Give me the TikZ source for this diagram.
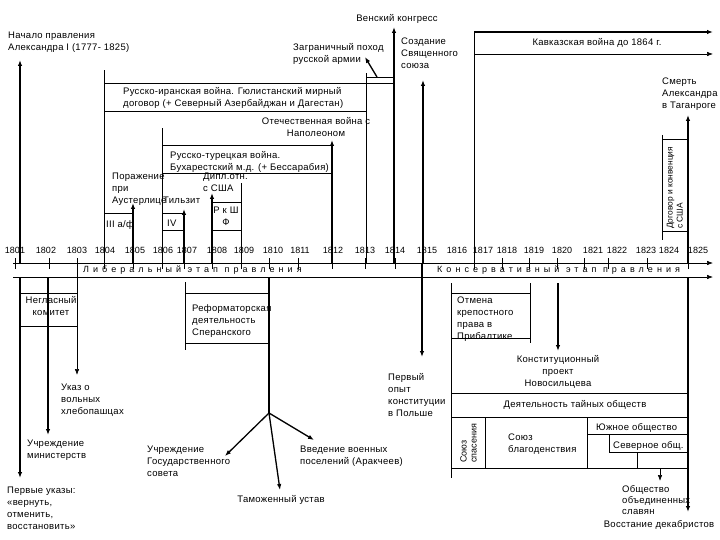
\documentclass[tikz,border=0pt]{standalone}
\usepackage{fontspec}
\setmainfont{Liberation Sans}
\usetikzlibrary{arrows.meta}
\newcommand\tlfont{\fontsize{9.5}{12}\selectfont\addfontfeature{LetterSpace=3}}
\newcommand\rotfont{\fontsize{8.4}{10}\selectfont}
\tikzset{
  txt/.style={font=\tlfont, inner sep=0pt, align=left, anchor=north west},
  ctxt/.style={font=\tlfont, inner sep=0pt, align=center},
  rtxt/.style={font=\rotfont, inner sep=0pt, align=left, rotate=90, anchor=south west},
  year/.style={font=\fontsize{9}{12}\selectfont, inner sep=0pt},
  band/.style={font=\fontsize{9}{12}\selectfont\addfontfeature{LetterSpace=45}, inner sep=0pt, anchor=west},
  thin line/.style={line width=0.6pt},
  mid line/.style={line width=1.3pt},
  bold line/.style={line width=2pt},
  arr/.style={-{Latex[length=6pt,width=4.5pt]}},
}
\begin{document}
\begin{tikzpicture}[x=1pt,y=-1pt]
\useasboundingbox (0,0) rectangle (720,540);

% axis
\coordinate (L1) at (13,263);
\coordinate (R1) at (713,263);
\coordinate (L2) at (13,277);
\coordinate (R2) at (713,277);
\draw[thin line,arr] (L1) -- (R1);
\draw[thin line,arr] (L2) -- (R2);
\foreach \x in {15,49,77,104,133,162,184,212,241,269,298,332,365,395,474,502,529,557,584,608,647,688}
{
    \draw[thin line] (\x,258) -- (\x,269);
}
\foreach \x/\y in {15/1801,46/1802,77/1803,105/1804,135/1805,163/1806,187/1807,217/1808,244/1809,273/1810,300/1811,333/1812,365/1813,395/1814,427/1815,457/1816,483/1817,507/1818,534/1819,562/1820,593/1821,617/1822,646/1823,669/1824,698/1825}
{
    \node[year] (y\y) at (\x,250) {\y};
}
\node[band] (lib) at (83,270) {Либеральный этап правления};
\node[band] (kons) at (437,270) {Консервативный этап правления};

% upper events
\coordinate (U1)  at (20,263);   \coordinate (U1e)  at (20,60);
\coordinate (U5)  at (133,263);  \coordinate (U5e)  at (133,203);
\coordinate (U7)  at (184,263);  \coordinate (U7e)  at (184,209);
\coordinate (U8)  at (212,263);  \coordinate (U8e)  at (212,193);
\coordinate (U12) at (332,263);  \coordinate (U12e) at (332,140);
\coordinate (U13) at (377,77);   \coordinate (U13e) at (365,57);
\coordinate (U14) at (394,263);  \coordinate (U14e) at (394,27);
\coordinate (U15) at (423,263);  \coordinate (U15e) at (423,80);
\coordinate (K1)  at (474,32);   \coordinate (K1e)  at (713,32);
\coordinate (K2)  at (474,54);   \coordinate (K2e)  at (713,54);
\coordinate (U25) at (688,263);  \coordinate (U25e) at (688,115);

\foreach \a in {U1,U5,U7,U14,U25,K1}
{
    \draw[bold line,arr] (\a) -- (\a e);
}
\foreach \a in {U8,U12,U13,U15}
{
    \draw[mid line,arr] (\a) -- (\a e);
}
\draw[thin line,arr] (K2) -- (K2e);

\draw[thin line] (104,263) -- (104,70);
\draw[thin line] (104,83) -- (394,83);
\draw[thin line] (104,111) -- (366,111);
\draw[thin line] (104,213) -- (133,213);
\draw[thin line] (162,263) -- (162,128);
\draw[thin line] (162,145) -- (332,145);
\draw[thin line] (162,173) -- (332,173);
\draw[thin line] (162,213) -- (184,213);
\draw[thin line] (162,230) -- (184,230);
\draw[thin line] (212,202) -- (241,202);
\draw[thin line] (212,230) -- (241,230);
\draw[thin line] (241,263) -- (241,183);
\draw[thin line] (366,263) -- (366,73);
\draw[thin line] (366,77) -- (394,77);
\draw[thin line] (474,263) -- (474,32);
\draw[thin line] (662,135) -- (662,240);
\draw[thin line] (662,139) -- (688,139);
\draw[thin line] (662,231) -- (688,231);

\node[txt] (nachalo) at (8,32) {Начало правления\\Александра I (1777- 1825)};
\node[ctxt] (vena) at (397,19) {Венский конгресс};
\node[txt] (pohod) at (293,43) {Заграничный поход\\русской армии};
\node[txt] (soyuz) at (401,38) {Создание\\Священного\\союза};
\node[ctxt] (kavkaz) at (597,43) {Кавказская война до 1864 г.};
\node[txt] (smert) at (662,78) {Смерть\\Александра\\в Таганроге};
\node[txt] (iran) at (123,87) {Русско-иранская война. Гюлистанский мирный\\договор (+ Северный Азербайджан и Дагестан)};
\node[ctxt,anchor=north] (otech) at (316,117) {Отечественная война с\\Наполеоном};
\node[txt] (turk) at (170,151) {Русско-турецкая война.\\Бухарестский м.д. (+ Бессарабия)};
\node[txt] (austerl) at (112,173) {Поражение\\при\\Аустерлице};
\node[txt] (tilzit) at (163,197) {Тильзит};
\node[txt] (dipl) at (203,173) {Дипл.отн.\\с США};
\node[txt] (af3) at (106,220) {III а/ф};
\node[txt] (af4) at (167,220) {IV};
\node[ctxt,anchor=north] (rksh) at (226,207) {Р к Ш\\Ф};
\node[rtxt] (dogovor) at (683,229) {Договор и конвенция\\с США};

% lower events
\coordinate (D1)  at (20,277);   \coordinate (D1e)  at (20,478);
\coordinate (D2)  at (48,277);   \coordinate (D2e)  at (48,435);
\coordinate (D3)  at (77,263);   \coordinate (D3e)  at (77,375);
\coordinate (D10) at (269,277);  \coordinate (F)    at (269,413);
\coordinate (F1)  at (225,456);
\coordinate (F2)  at (280,490);
\coordinate (F3)  at (314,440);
\coordinate (D15) at (422,277);  \coordinate (D15e) at (422,357);
\coordinate (D20) at (558,283);  \coordinate (D20e) at (558,351);
\coordinate (D25) at (688,277);  \coordinate (D25e) at (688,512);
\coordinate (S1)  at (660,468);  \coordinate (S1e)  at (660,481);

\foreach \a in {D1,D2,D25}
{
    \draw[bold line,arr] (\a) -- (\a e);
}
\draw[thin line,arr] (D3) -- (D3e);
\draw[bold line] (D10) -- (F);
\foreach \p in {F1,F2,F3}
{
    \draw[mid line,arr] (F) -- (\p);
}
\draw[bold line] (422,263) -- (D15);
\draw[mid line,arr] (D15) -- (D15e);
\draw[mid line,arr] (D20) -- (D20e);
\draw[thin line,arr] (S1) -- (S1e);

\draw[thin line] (20,293) -- (77,293);
\draw[thin line] (20,326) -- (77,326);
\draw[thin line] (185,282) -- (185,350);
\draw[thin line] (185,293) -- (269,293);
\draw[thin line] (185,343) -- (269,343);
\draw[thin line] (451,283) -- (451,478);
\draw[thin line] (451,293) -- (530,293);
\draw[thin line] (451,338) -- (530,338);
\draw[thin line] (530,283) -- (530,343);
\draw[thin line] (451,393) -- (688,393);
\draw[thin line] (451,417) -- (688,417);
\draw[thin line] (451,468) -- (688,468);
\draw[thin line] (485,417) -- (485,468);
\draw[thin line] (587,417) -- (587,468);
\draw[thin line] (587,434) -- (688,434);
\draw[thin line] (609,434) -- (609,452);
\draw[thin line] (609,452) -- (688,452);
\draw[thin line] (637,452) -- (637,468);

\node[ctxt,anchor=north] (komitet) at (51,296) {Негласный\\комитет};
\node[txt] (speransk) at (192,304) {Реформаторская\\деятельность\\Сперанского};
\node[txt] (ukaz) at (61,384) {Указ о\\вольных\\хлебопашцах};
\node[txt] (minist) at (27,440) {Учреждение\\министерств};
\node[txt] (pervye) at (7,487) {Первые указы:\\«вернуть,\\отменить,\\восстановить»};
\node[txt] (gossovet) at (147,446) {Учреждение\\Государственного\\совета};
\node[ctxt] (tamozh) at (281,500) {Таможенный устав};
\node[txt] (poselen) at (300,446) {Введение военных\\поселений (Аракчеев)};
\node[txt] (polsha) at (388,373) {Первый\\опыт\\конституции\\в Польше};
\node[txt] (pribalt) at (457,297) {Отмена\\крепостного\\права в\\Прибалтике};
\node[ctxt,anchor=north] (novosil) at (558,355) {Конституционный\\проект\\Новосильцева};
\node[ctxt] (tainye) at (575,405) {Деятельность тайных обществ};
\node[rtxt,font=\fontsize{9}{10}\selectfont] (spasen) at (477,463) {Союз\\спасения};
\node[txt] (blago) at (508,434) {Союз\\благоденствия};
\node[txt] (yuzh) at (596,423) {Южное общество};
\node[txt] (sever) at (613,441) {Северное общ.};
\node[txt,font=\fontsize{9.5}{11}\selectfont\addfontfeature{LetterSpace=3}] (slavyan) at (622,485) {Общество\\объединенных\\славян};
\node[ctxt] (vosst) at (659,525) {Восстание декабристов};
\end{tikzpicture}
\end{document}
